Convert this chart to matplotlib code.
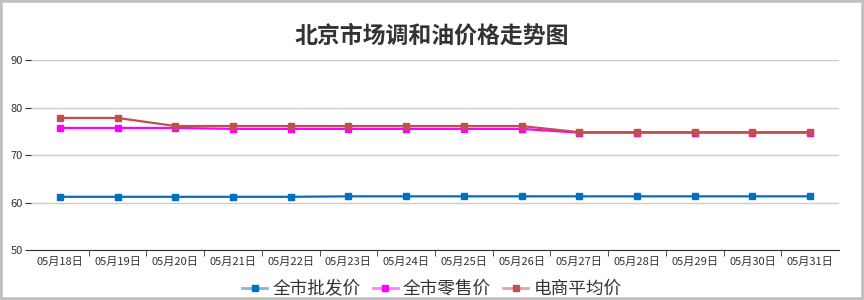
import numpy as np
import matplotlib
matplotlib.use('Agg')
import matplotlib.pyplot as plt
from matplotlib.patches import Rectangle
from matplotlib.lines import Line2D

plt.rcParams['font.family'] = ['Noto Sans CJK SC', 'DejaVu Sans']

# data
dates = ['05月18日', '05月19日', '05月20日', '05月21日', '05月22日', '05月23日', '05月24日',
         '05月25日', '05月26日', '05月27日', '05月28日', '05月29日', '05月30日', '05月31日']
wholesale = [61.2, 61.2, 61.2, 61.2, 61.2, 61.3, 61.3, 61.3, 61.3, 61.3, 61.3, 61.3, 61.3, 61.3]
retail = [75.7, 75.7, 75.7, 75.5, 75.5, 75.5, 75.5, 75.5, 75.5, 74.7, 74.7, 74.7, 74.7, 74.7]
online = [77.8, 77.8, 76.1, 76.1, 76.1, 76.1, 76.1, 76.1, 76.1, 74.8, 74.8, 74.8, 74.8, 74.8]
series_names = ['全市批发价', '全市零售价', '电商平均价']
colors = ['#0070C0', '#FF00FF', '#C0504D']

fig = plt.figure(figsize=(8.64, 3.0), dpi=100)
ax = fig.add_axes([31/864, 50/300, 808/864, 190/300])

x = np.arange(len(dates))
for vals, c in zip([wholesale, retail, online], colors):
	ax.plot(x, vals, color=c, linewidth=1.6, marker='s', markersize=3.8, zorder=3)

ax.set_xlim(-0.5, len(dates) - 0.5)
ax.set_ylim(50, 90)
ax.set_yticks([50, 60, 70, 80, 90])
ax.grid(axis='y', color='#cccccc', linewidth=1)
ax.set_axisbelow(True)

ax.set_xticks(x)
ax.set_xticklabels(dates)
ax.set_xticks(np.arange(0.5, len(dates) - 1, 1), minor=True)
ax.tick_params(axis='x', which='major', length=0, pad=5, labelsize=8, colors='#333333')
ax.tick_params(axis='x', which='minor', length=4, color='#333333')
ax.tick_params(axis='y', length=4, pad=2, labelsize=8, colors='#333333')

for s in ['top', 'right', 'left']:
	ax.spines[s].set_visible(False)
ax.spines['bottom'].set_color('#333333')

fig.text(0.5, 0.88, '北京市场调和油价格走势图', ha='center', va='center',
	fontsize=16.5, fontweight='bold', color='#333333')

handles = []
for c in colors:
	h = Line2D([0], [0], color=matplotlib.colors.to_rgba(c, 0.5), linewidth=2, marker='s',
		markersize=5, markerfacecolor=c, markeredgecolor=c)
	handles.append(h)
fig.legend(handles, series_names, loc='center', bbox_to_anchor=(0.5, 0.037), ncol=3,
	frameon=False, fontsize=12.7, handlelength=1.4, handletextpad=0.3, columnspacing=0.7,
	labelcolor='#333333', borderpad=0)

fig.patches.append(Rectangle((0, 0), 1, 1, transform=fig.transFigure, fill=False,
	edgecolor='#c0c0c0', linewidth=4, zorder=10))

fig.savefig('out.png', dpi=100)
